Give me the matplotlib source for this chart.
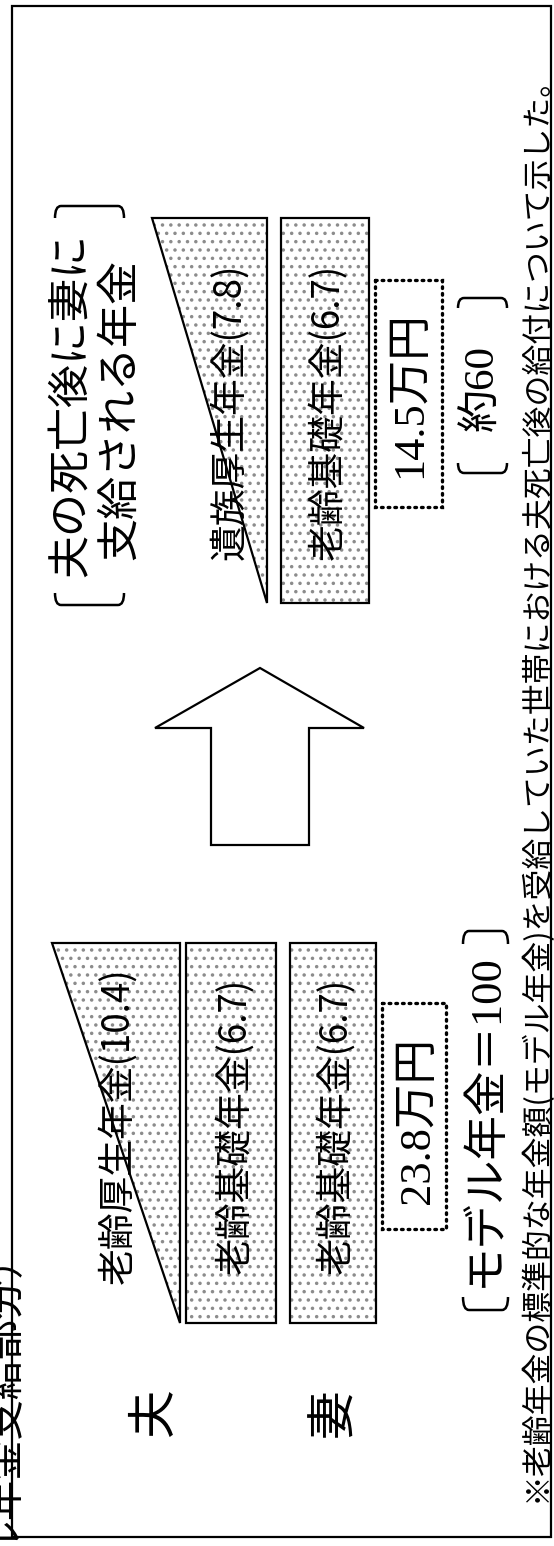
import matplotlib
matplotlib.use('Agg')
import matplotlib.pyplot as plt
from matplotlib.patches import Polygon, Rectangle, PathPatch
from matplotlib.path import Path

plt.rcParams['font.family'] = ['Noto Sans CJK JP', 'DejaVu Sans']
plt.rcParams['hatch.linewidth'] = 1.3

JP = ['Noto Sans CJK JP', 'DejaVu Sans']
SERIF = ['Liberation Serif', 'Noto Sans CJK JP']

# --- data (万円, model pension = 100) ---
persons = ['夫', '妻']
before_items = ['老齢厚生年金', '老齢基礎年金', '老齢基礎年金']   # husband, husband, wife
before_vals = [10.4, 6.7, 6.7]
after_items = ['遺族厚生年金', '老齢基礎年金']
after_vals = [7.8, 6.7]
total_before = 23.8
total_after = 14.5
ratio_after = 60
model_index = 100
header = ['夫の死亡後に妻に', '支給される年金']
title = '（モデル年金支給部分）'
note = '※老齢年金の標準的な年金額(モデル年金)を受給していた世帯における夫死亡後の給付について示した。'

# --- figure in pixel coords (y downwards) ---
W, H = 554, 1546
fig = plt.figure(figsize=(W / 100, H / 100), dpi=100)
ax = fig.add_axes([0, 0, 1, 1])
ax.set_xlim(0, W)
ax.set_ylim(H, 0)
ax.axis('off')

# outer frame
ax.add_patch(Rectangle((12, 6), 539, 1531, fill=False, ec='black', lw=1.6))

def stipple(patch_cls, *args):
    ax.add_patch(patch_cls(*args, fc='white', ec='#8c8c8c', hatch='..', lw=0))
    ax.add_patch(patch_cls(*args, fill=False, ec='black', lw=1.6))

def vtext(x, y, s, size, family=JP, **kw):
    ax.text(x, y, s, rotation=90, ha='center', va='center',
            fontsize=size, family=family, **kw)

def bracket(x0, x1, ys, ya, lw=1.8):
    # rotated square bracket: spine at ys, arms bending to ya
    r = 6
    verts = [(x0, ya), (x0, ys), (x0 + r, ys), (x1 - r, ys), (x1, ys), (x1, ya)]
    codes = [Path.MOVETO, Path.CURVE3, Path.CURVE3, Path.LINETO,
             Path.CURVE3, Path.CURVE3]
    ax.add_patch(PathPatch(Path(verts, codes), fill=False, ec='black', lw=lw))

# ---- before (husband alive) block ----
y0, y1 = 943, 1323
stipple(Polygon, [(52, y0), (180, y0), (180, y1)])             # 老齢厚生 wedge
stipple(Rectangle, (186, y0), 90, y1 - y0)                     # husband 基礎
stipple(Rectangle, (290, y0), 86, y1 - y0)                     # wife 基礎
ax.add_patch(Rectangle((382, 1003), 64, 226, fill=False, ec='black',
                       lw=2.4, ls=(0, (0.5, 1.5)), capstyle='round'))

label_x = [118, 235, 336]
for x, name, v in zip(label_x, before_items, before_vals):
    vtext(x, 1126, f'{name}({v})', 26.5)
vtext(418, 1120, f'{total_before}万円', 32, family=SERIF)
vtext(485, 1120, f'モデル年金＝{model_index}', 32, family=SERIF)
bracket(463, 508, 931, 944)
bracket(463, 508, 1310, 1297)

vtext(154, 1413, persons[0], 35)
vtext(334, 1413, persons[1], 35)

# ---- arrow ----
arrow = [(260, 668), (364, 728), (309, 728), (309, 845),
         (211, 845), (211, 728), (155, 728)]
ax.add_patch(Polygon(arrow, closed=True, fc='white', ec='black', lw=1.6))

# ---- after (husband deceased) block ----
a0, a1 = 218, 603
stipple(Polygon, [(152, a0), (267, a0), (267, a1)])            # 遺族厚生 wedge
stipple(Rectangle, (281, a0), 88, a1 - a0)                     # wife 基礎
ax.add_patch(Rectangle((375, 280), 67, 227, fill=False, ec='black',
                       lw=2.4, ls=(0, (0.5, 1.5)), capstyle='round'))

after_x = [230, 328]
for x, name, v in zip(after_x, after_items, after_vals):
    vtext(x, 412, f'{name}({v})', 26.5)
vtext(410, 395, f'{total_after}万円', 32, family=SERIF)
vtext(483, 388, f'約{ratio_after}', 31, family=SERIF)
bracket(458, 507, 298, 308)
bracket(458, 507, 473, 463)

# header with brackets spanning both lines
vtext(72, 405, header[0], 31)
vtext(120, 410, header[1], 31)
bracket(55, 124, 206, 218)
bracket(55, 124, 605, 593)

# cut-off title on the left edge, footnote on the right
ax.text(-20, 1210, title, rotation=90, ha='center', va='top', fontsize=29)
vtext(535, 781, note, 22.2)

fig.savefig('out.png', dpi=100)
